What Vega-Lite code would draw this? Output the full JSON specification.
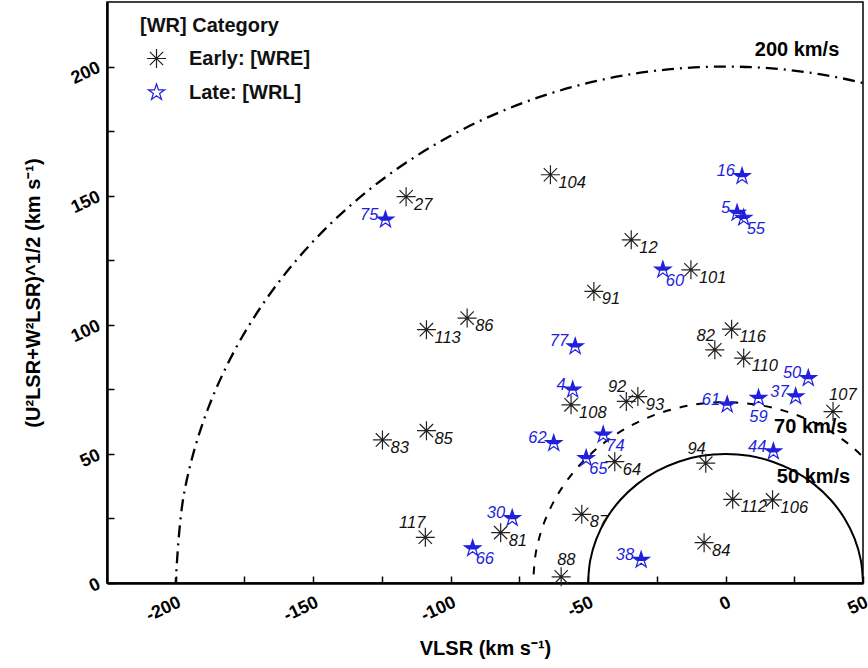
{
  "$schema": "https://vega.github.io/schema/vega-lite/v6.json",
  "width": 756,
  "height": 581,
  "autosize": {"type": "none"},
  "padding": {"left": 107, "top": 2, "right": 5, "bottom": 85},
  "background": "white",
  "config": {
    "font": "Liberation Sans",
    "view": {"stroke": "black", "strokeWidth": 1.5},
    "axis": {
      "grid": false,
      "domainColor": "black",
      "domainWidth": 2.5,
      "tickColor": "black",
      "tickWidth": 1.5,
      "tickSize": -7,
      "labelFont": "Liberation Sans",
      "labelFontSize": 18,
      "labelFontWeight": "bold",
      "labelColor": "black",
      "titleFont": "Liberation Sans",
      "titleFontSize": 20,
      "titleFontWeight": "bold",
      "titleColor": "black"
    }
  },
  "datasets": {
    "stars": [
      {"id": "27", "v": -116.2, "uw": 149.6, "type": "Early: [WRE]"},
      {"id": "104", "v": -63.7, "uw": 158.1, "type": "Early: [WRE]"},
      {"id": "12", "v": -34.3, "uw": 132.9, "type": "Early: [WRE]"},
      {"id": "101", "v": -12.6, "uw": 121.3, "type": "Early: [WRE]"},
      {"id": "91", "v": -47.9, "uw": 112.9, "type": "Early: [WRE]"},
      {"id": "86", "v": -94.0, "uw": 102.6, "type": "Early: [WRE]"},
      {"id": "113", "v": -108.8, "uw": 98.1, "type": "Early: [WRE]"},
      {"id": "116", "v": 2.2, "uw": 98.3, "type": "Early: [WRE]"},
      {"id": "82", "v": -3.9, "uw": 90.3, "type": "Early: [WRE]"},
      {"id": "110", "v": 6.6, "uw": 87.1, "type": "Early: [WRE]"},
      {"id": "107", "v": 39.1, "uw": 66.4, "type": "Early: [WRE]"},
      {"id": "108", "v": -56.2, "uw": 69.0, "type": "Early: [WRE]"},
      {"id": "92", "v": -36.1, "uw": 70.3, "type": "Early: [WRE]"},
      {"id": "93", "v": -31.9, "uw": 72.2, "type": "Early: [WRE]"},
      {"id": "83", "v": -124.8, "uw": 55.4, "type": "Early: [WRE]"},
      {"id": "85", "v": -108.8, "uw": 59.0, "type": "Early: [WRE]"},
      {"id": "64", "v": -40.3, "uw": 47.0, "type": "Early: [WRE]"},
      {"id": "94", "v": -7.2, "uw": 46.4, "type": "Early: [WRE]"},
      {"id": "112", "v": 2.6, "uw": 32.4, "type": "Early: [WRE]"},
      {"id": "106", "v": 17.1, "uw": 32.2, "type": "Early: [WRE]"},
      {"id": "87", "v": -52.3, "uw": 26.6, "type": "Early: [WRE]"},
      {"id": "81", "v": -81.8, "uw": 19.5, "type": "Early: [WRE]"},
      {"id": "117", "v": -109.2, "uw": 17.7, "type": "Early: [WRE]"},
      {"id": "84", "v": -7.8, "uw": 15.6, "type": "Early: [WRE]"},
      {"id": "88", "v": -59.8, "uw": 2.4, "type": "Early: [WRE]"},
      {"id": "75", "v": -123.7, "uw": 140.7, "type": "Late: [WRL]"},
      {"id": "16", "v": 6.0, "uw": 157.5, "type": "Late: [WRL]"},
      {"id": "5", "v": 4.2, "uw": 143.3, "type": "Late: [WRL]"},
      {"id": "55", "v": 6.6, "uw": 141.4, "type": "Late: [WRL]"},
      {"id": "60", "v": -22.8, "uw": 121.3, "type": "Late: [WRL]"},
      {"id": "77", "v": -54.7, "uw": 91.6, "type": "Late: [WRL]"},
      {"id": "50", "v": 30.1, "uw": 79.3, "type": "Late: [WRL]"},
      {"id": "4", "v": -55.6, "uw": 74.8, "type": "Late: [WRL]"},
      {"id": "61", "v": 0.6, "uw": 69.0, "type": "Late: [WRL]"},
      {"id": "59", "v": 12.0, "uw": 71.6, "type": "Late: [WRL]"},
      {"id": "37", "v": 25.5, "uw": 72.2, "type": "Late: [WRL]"},
      {"id": "62", "v": -62.5, "uw": 54.1, "type": "Late: [WRL]"},
      {"id": "74", "v": -44.5, "uw": 57.4, "type": "Late: [WRL]"},
      {"id": "65", "v": -50.7, "uw": 48.3, "type": "Late: [WRL]"},
      {"id": "44", "v": 17.4, "uw": 50.9, "type": "Late: [WRL]"},
      {"id": "30", "v": -77.6, "uw": 25.1, "type": "Late: [WRL]"},
      {"id": "66", "v": -92.0, "uw": 13.4, "type": "Late: [WRL]"},
      {"id": "38", "v": -30.7, "uw": 8.9, "type": "Late: [WRL]"}
    ],
    "circles": [
      {"r": 50, "a": 0, "v": 50, "uw": 0},
      {"r": 50, "a": 10, "v": 49.24, "uw": 8.68},
      {"r": 50, "a": 20, "v": 46.98, "uw": 17.1},
      {"r": 50, "a": 30, "v": 43.3, "uw": 25},
      {"r": 50, "a": 40, "v": 38.3, "uw": 32.14},
      {"r": 50, "a": 50, "v": 32.14, "uw": 38.3},
      {"r": 50, "a": 60, "v": 25, "uw": 43.3},
      {"r": 50, "a": 70, "v": 17.1, "uw": 46.98},
      {"r": 50, "a": 80, "v": 8.68, "uw": 49.24},
      {"r": 50, "a": 90, "v": 0, "uw": 50},
      {"r": 50, "a": 100, "v": -8.68, "uw": 49.24},
      {"r": 50, "a": 110, "v": -17.1, "uw": 46.98},
      {"r": 50, "a": 120, "v": -25, "uw": 43.3},
      {"r": 50, "a": 130, "v": -32.14, "uw": 38.3},
      {"r": 50, "a": 140, "v": -38.3, "uw": 32.14},
      {"r": 50, "a": 150, "v": -43.3, "uw": 25},
      {"r": 50, "a": 160, "v": -46.98, "uw": 17.1},
      {"r": 50, "a": 170, "v": -49.24, "uw": 8.68},
      {"r": 50, "a": 180, "v": -50, "uw": 0},
      {"r": 70, "a": 40, "v": 53.62, "uw": 45},
      {"r": 70, "a": 50, "v": 45, "uw": 53.62},
      {"r": 70, "a": 60, "v": 35, "uw": 60.62},
      {"r": 70, "a": 70, "v": 23.94, "uw": 65.78},
      {"r": 70, "a": 80, "v": 12.16, "uw": 68.94},
      {"r": 70, "a": 90, "v": 0, "uw": 70},
      {"r": 70, "a": 100, "v": -12.16, "uw": 68.94},
      {"r": 70, "a": 110, "v": -23.94, "uw": 65.78},
      {"r": 70, "a": 120, "v": -35, "uw": 60.62},
      {"r": 70, "a": 130, "v": -45, "uw": 53.62},
      {"r": 70, "a": 140, "v": -53.62, "uw": 45},
      {"r": 70, "a": 150, "v": -60.62, "uw": 35},
      {"r": 70, "a": 160, "v": -65.78, "uw": 23.94},
      {"r": 70, "a": 170, "v": -68.94, "uw": 12.16},
      {"r": 70, "a": 180, "v": -70, "uw": 0},
      {"r": 200, "a": 60, "v": 100, "uw": 173.21},
      {"r": 200, "a": 70, "v": 68.4, "uw": 187.94},
      {"r": 200, "a": 80, "v": 34.73, "uw": 196.96},
      {"r": 200, "a": 90, "v": 0, "uw": 200},
      {"r": 200, "a": 100, "v": -34.73, "uw": 196.96},
      {"r": 200, "a": 110, "v": -68.4, "uw": 187.94},
      {"r": 200, "a": 120, "v": -100, "uw": 173.21},
      {"r": 200, "a": 130, "v": -128.56, "uw": 153.21},
      {"r": 200, "a": 140, "v": -153.21, "uw": 128.56},
      {"r": 200, "a": 150, "v": -173.21, "uw": 100},
      {"r": 200, "a": 160, "v": -187.94, "uw": 68.4},
      {"r": 200, "a": 170, "v": -196.96, "uw": 34.73},
      {"r": 200, "a": 180, "v": -200, "uw": 0}
    ],
    "circlelabels": [
      {"t": "200 km/s", "v": 26, "uw": 206.6},
      {"t": "70 km/s", "v": 31, "uw": 60.5},
      {"t": "50 km/s", "v": 32, "uw": 41.2}
    ]
  },
  "encoding": {
    "x": {
      "field": "v", "type": "quantitative",
      "scale": {"domain": [-225, 50], "nice": false, "zero": false},
      "axis": {
        "title": "VLSR (km s⁻¹)",
        "values": [-200, -175, -150, -125, -100, -75, -50, -25, 0, 25, 50],
        "labelExpr": "datum.value % 50 === 0 ? '' + datum.value : ''",
        "labelAngle": -25,
        "labelAlign": "right",
        "labelBaseline": "top",
        "labelPadding": 17,
        "titlePadding": 14
      }
    },
    "y": {
      "field": "uw", "type": "quantitative",
      "scale": {"domain": [0, 225], "nice": false, "zero": false},
      "axis": {
        "title": "(U²LSR+W²LSR)^1/2 (km s⁻¹)",
        "values": [0, 25, 50, 75, 100, 125, 150, 175, 200],
        "labelExpr": "datum.value % 50 === 0 ? '' + datum.value : ''",
        "labelAngle": -25,
        "labelAlign": "right",
        "labelBaseline": "middle",
        "labelPadding": 15,
        "titlePadding": 24
      }
    }
  },
  "layer": [
    {
      "data": {"name": "circles"},
      "transform": [{"filter": "datum.r == 200"}],
      "mark": {"type": "line", "clip": true, "color": "black", "strokeWidth": 2.3, "strokeDash": [12, 6, 2, 6], "interpolate": "cardinal"},
      "encoding": {"order": {"field": "a", "type": "quantitative"}}
    },
    {
      "data": {"name": "circles"},
      "transform": [{"filter": "datum.r == 70"}],
      "mark": {"type": "line", "clip": true, "color": "black", "strokeWidth": 2, "strokeDash": [8, 9], "interpolate": "cardinal"},
      "encoding": {"order": {"field": "a", "type": "quantitative"}}
    },
    {
      "data": {"name": "circles"},
      "transform": [{"filter": "datum.r == 50"}],
      "mark": {"type": "line", "clip": true, "color": "black", "strokeWidth": 2, "interpolate": "cardinal"},
      "encoding": {"order": {"field": "a", "type": "quantitative"}}
    },
    {
      "data": {"name": "circlelabels"},
      "mark": {"type": "text", "fontSize": 20, "fontWeight": "bold", "color": "black", "align": "center", "baseline": "middle"},
      "encoding": {"text": {"field": "t"}}
    },
    {
      "data": {"name": "stars"},
      "mark": {"type": "point", "filled": false, "size": 361, "strokeWidth": 1.2, "opacity": 1},
      "encoding": {
        "shape": {
          "field": "type", "type": "nominal",
          "scale": {
            "domain": ["Early: [WRE]", "Late: [WRL]"],
            "range": [
              "M-1,0L1,0M0,-1L0,1M-0.7,-0.7L0.7,0.7M-0.7,0.7L0.7,-0.7",
              "M0,-0.9L0.202,-0.278L0.856,-0.278L0.327,0.106L0.529,0.728L0,0.344L-0.529,0.728L-0.327,0.106L-0.856,-0.278L-0.202,-0.278Z"
            ]
          },
          "legend": {
            "title": "[WR] Category",
            "orient": "none",
            "legendX": 33,
            "legendY": 14,
            "titleFontSize": 20,
            "titleFontWeight": "bold",
            "titleColor": "#111",
            "titleFont": "Liberation Sans",
            "labelFont": "Liberation Sans",
            "labelFontSize": 20,
            "labelFontWeight": "bold",
            "labelColor": "#111",
            "symbolSize": 361,
            "symbolStrokeWidth": 1.2,
            "symbolOpacity": 1,
            "rowPadding": 10,
            "labelOffset": 22,
            "symbolOffset": 6,
            "titlePadding": 12,
            "padding": 0
          }
        },
        "color": {
          "field": "type", "type": "nominal",
          "scale": {"domain": ["Early: [WRE]", "Late: [WRL]"], "range": ["#222222", "#1f1fdd"]},
          "legend": {
            "title": "[WR] Category",
            "orient": "none",
            "legendX": 33,
            "legendY": 14
          }
        }
      }
    },
    {
      "data": {"name": "stars"},
      "transform": [{"filter": {"field": "type", "equal": "Late: [WRL]"}}],
      "mark": {"type": "point", "filled": true, "size": 361, "color": "#1f1fdd", "opacity": 1, "shape": "M0,-0.9L0.202,-0.278L0.856,-0.278L0.327,0.106L-0.327,0.106L-0.856,-0.278L-0.202,-0.278Z"}
    },
    {
      "data": {"name": "stars"},
      "transform": [{"filter": {"and": [{"field": "type", "equal": "Early: [WRE]"}, {"not": {"field": "id", "oneOf": ["82", "92", "94", "117", "88", "107"]}}]}}],
      "mark": {"type": "text", "align": "left", "baseline": "middle", "dx": 8, "dy": 8, "fontSize": 16.5, "fontStyle": "italic", "color": "#111"},
      "encoding": {"text": {"field": "id"}}
    },
    {
      "data": {"name": "stars"},
      "transform": [{"filter": {"field": "id", "oneOf": ["82", "92", "94", "117"]}}],
      "mark": {"type": "text", "align": "right", "baseline": "middle", "dx": 0, "dy": -14, "fontSize": 16.5, "fontStyle": "italic", "color": "#111"},
      "encoding": {"text": {"field": "id"}}
    },
    {
      "data": {"name": "stars"},
      "transform": [{"filter": {"field": "id", "oneOf": ["88", "107"]}}],
      "mark": {"type": "text", "align": "left", "baseline": "middle", "dx": -4, "dy": -17, "fontSize": 16.5, "fontStyle": "italic", "color": "#111"},
      "encoding": {"text": {"field": "id"}}
    },
    {
      "data": {"name": "stars"},
      "transform": [{"filter": {"field": "id", "oneOf": ["75", "16", "77", "50", "37", "62", "44", "30", "38", "61", "4", "5"]}}],
      "mark": {"type": "text", "align": "right", "baseline": "middle", "dx": -7, "dy": -5, "fontSize": 16.5, "fontStyle": "italic", "color": "#1f1fdd"},
      "encoding": {"text": {"field": "id"}}
    },
    {
      "data": {"name": "stars"},
      "transform": [{"filter": {"field": "id", "oneOf": ["60", "74", "65", "66", "55"]}}],
      "mark": {"type": "text", "align": "left", "baseline": "middle", "dx": 3, "dy": 11, "fontSize": 16.5, "fontStyle": "italic", "color": "#1f1fdd"},
      "encoding": {"text": {"field": "id"}}
    },
    {
      "data": {"name": "stars"},
      "transform": [{"filter": {"field": "id", "oneOf": ["59"]}}],
      "mark": {"type": "text", "align": "center", "baseline": "middle", "dx": 0, "dy": 19, "fontSize": 16.5, "fontStyle": "italic", "color": "#1f1fdd"},
      "encoding": {"text": {"field": "id"}}
    }
  ]
}
